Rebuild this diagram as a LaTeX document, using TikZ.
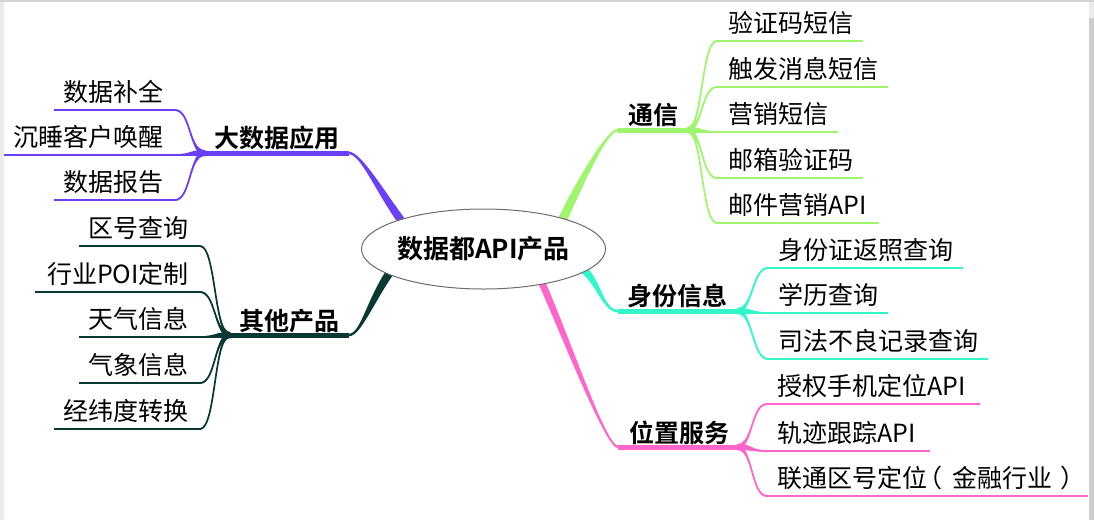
\documentclass[tikz,border=0pt]{standalone}
\usepackage{fontspec}
\setmainfont{Noto Sans CJK SC}[BoldFont={Noto Sans CJK SC Bold}]
\usetikzlibrary{calc,shapes.geometric}
\definecolor{cpur}{HTML}{6B3FF5}
\definecolor{cdark}{HTML}{0A3832}
\definecolor{cgreen}{HTML}{A0F56E}
\definecolor{caqua}{HTML}{33F7CC}
\definecolor{cpink}{HTML}{FF66CC}
\definecolor{gbar}{HTML}{EBEBEB}
\definecolor{gtop}{HTML}{D2D2D2}
\definecolor{gbartwo}{HTML}{CDCDCD}
\pgfdeclarelayer{back}\pgfdeclarelayer{bg}\pgfsetlayers{back,bg,main}
% tapered connector: colour, from, to, control vec at from, control vec at to, half width vec at from, at to
\newcommand\taper[7]{%
  \fill[#1] ($(#2)+#6$) .. controls ($(#2)+#4+#6$) and ($(#3)+#5+#7$) .. ($(#3)+#7$)
    -- ($(#3)-#7$) .. controls ($(#3)+#5-#7$) and ($(#2)+#4-#6$) .. ($(#2)-#6$) -- cycle;
  \draw[#1, line width=1.7pt] (#2) .. controls ($(#2)+#4$) and ($(#3)+#5$) .. (#3);}
\newcommand\kid[6]{% colour, junction, leaf start, leaf end, c1, c2
  \taper{#1}{#2}{#3}{#5}{#6}{(0,3)}{(0,0.8)}
  \draw[#1, uline] (#3) -- (#4);}
\tikzset{
  leafL/.style={anchor=base east, inner sep=0pt, font=\fontsize{25}{28}\selectfont},
  leafR/.style={anchor=base west, inner sep=0pt, font=\fontsize{25}{28}\selectfont},
  topic/.style={anchor=base west, inner sep=0pt, font=\bfseries\fontsize{25}{28}\selectfont},
  hub/.style={ellipse, draw=gray!85!black, line width=1pt, fill=white, minimum width=207pt,
    minimum height=80pt, inner sep=0pt, font=\bfseries\fontsize{26}{30}\selectfont},
  uline/.style={line width=2pt},
  mline/.style={line width=5pt},
}
\begin{document}
\begin{tikzpicture}[x=1pt,y=-1pt]
\useasboundingbox (0,0) rectangle (1094,520);
\begin{pgfonlayer}{back}
\fill[white] (0,0) rectangle (1094,520);
\fill[gbar] (0,0) rectangle (4,520);
\fill[gtop] (0,0) rectangle (1094,1.5);
\fill[gbar] (1089,1.5) rectangle (1094,18);
\fill[gbartwo] (1089,18) rectangle (1094,520);
\end{pgfonlayer}

\node[hub] (c) at (483.5,249) {数据都API产品};

% branch anchors
\coordinate (pA) at ($(c.center)!0.88!(c.163)$);
\coordinate (dA) at ($(c.center)!0.88!(c.192)$);
\coordinate (gA) at ($(c.center)!0.88!(c.18)$);
\coordinate (aA) at ($(c.center)!0.88!(c.350)$);
\coordinate (kA) at ($(c.center)!0.88!(c.332)$);

\coordinate (pB) at (349,153); \coordinate (pJ) at (205,153);
\coordinate (dB) at (349,335); \coordinate (dJ) at (230,335);
\coordinate (gB) at (618,130); \coordinate (gJ) at (687,130);
\coordinate (aB) at (618,311); \coordinate (aJ) at (737,311);
\coordinate (kB) at (618,447); \coordinate (kJ) at (737,447);

% leaf line coordinates
\coordinate (p1s) at (175,110); \coordinate (p1e) at (54,110);
\coordinate (p2s) at (175,155); \coordinate (p2e) at (4,155);
\coordinate (p3s) at (175,200); \coordinate (p3e) at (54,200);

\coordinate (d1s) at (200,246); \coordinate (d1e) at (79,246);
\coordinate (d2s) at (200,292); \coordinate (d2e) at (35,292);
\coordinate (d3s) at (200,337); \coordinate (d3e) at (79,337);
\coordinate (d4s) at (200,383); \coordinate (d4e) at (79,383);
\coordinate (d5s) at (200,429); \coordinate (d5e) at (54,429);

\coordinate (g1s) at (717,41);  \coordinate (g1e) at (863,41);
\coordinate (g2s) at (717,87);  \coordinate (g2e) at (888,87);
\coordinate (g3s) at (717,132); \coordinate (g3e) at (838,132);
\coordinate (g4s) at (717,178); \coordinate (g4e) at (863,178);
\coordinate (g5s) at (717,223); \coordinate (g5e) at (879,223);

\coordinate (a1s) at (768,268); \coordinate (a1e) at (963,268);
\coordinate (a2s) at (768,313); \coordinate (a2e) at (888,313);
\coordinate (a3s) at (768,359); \coordinate (a3e) at (988,359);

\coordinate (k1s) at (767,404); \coordinate (k1e) at (980,404);
\coordinate (k2s) at (767,451); \coordinate (k2e) at (930,451);
\coordinate (k3s) at (767,496); \coordinate (k3e) at (1088,496);

\begin{pgfonlayer}{bg}
% main branches
\taper{cpur}{pA}{pB}{(-24,-32)}{(12,0)}{(-3.3,2.2)}{(0,1.2)}
\taper{cdark}{dA}{dB}{(-22,30)}{(12,0)}{(3.4,2.2)}{(0,1.2)}
\taper{cgreen}{gA}{gB}{(16,-34)}{(-12,0)}{(-4.2,-1.7)}{(0,-1.2)}
\taper{caqua}{aA}{aB}{(20,12)}{(-16,0)}{(2.3,-3.2)}{(0,-1.2)}
\taper{cpink}{kA}{kB}{(28,64)}{(-12,0)}{(3.2,-1.3)}{(0,-1.2)}
\draw[cpur, mline] (pJ) -- (pB);
\draw[cdark, mline] (dJ) -- (dB);
\draw[cgreen, mline] (gB) -- (gJ);
\draw[caqua, mline] (aB) -- (aJ);
\draw[cpink, mline] (kB) -- (kJ);
% leaves
\foreach \i in {1,2,3} {\kid{cpur}{pJ}{p\i s}{p\i e}{(-16,0)}{(16,0)}}
\foreach \i in {1,...,5} {\kid{cdark}{dJ}{d\i s}{d\i e}{(-16,0)}{(16,0)}}
\foreach \i in {1,...,5} {\kid{cgreen}{gJ}{g\i s}{g\i e}{(16,0)}{(-16,0)}}
\foreach \i in {1,2,3} {\kid{caqua}{aJ}{a\i s}{a\i e}{(16,0)}{(-16,0)}}
\foreach \i in {1,2,3} {\kid{cpink}{kJ}{k\i s}{k\i e}{(16,0)}{(-16,0)}}
\end{pgfonlayer}

% topic labels
\node[topic] (tp) at (214,147) {大数据应用};
\node[topic] (td) at (239,330) {其他产品};
\node[topic] (tg) at (628,124) {通信};
\node[topic] (ta) at (627,305) {身份信息};
\node[topic] (tk) at (629,442) {位置服务};

% leaf labels
\node[leafL] (lp1) at (164,101) {数据补全};
\node[leafL] (lp2) at (164,146) {沉睡客户唤醒};
\node[leafL] (lp3) at (164,191) {数据报告};

\node[leafL] (ld1) at (189,237) {区号查询};
\node[leafL] (ld2) at (189,283) {行业POI定制};
\node[leafL] (ld3) at (189,328) {天气信息};
\node[leafL] (ld4) at (189,374) {气象信息};
\node[leafL] (ld5) at (189,420) {经纬度转换};

\node[leafR] (lg1) at (728,32) {验证码短信};
\node[leafR] (lg2) at (728,78) {触发消息短信};
\node[leafR] (lg3) at (728,123) {营销短信};
\node[leafR] (lg4) at (728,169) {邮箱验证码};
\node[leafR] (lg5) at (728,214) {邮件营销API};

\node[leafR] (la1) at (778,259) {身份证返照查询};
\node[leafR] (la2) at (778,304) {学历查询};
\node[leafR] (la3) at (778,350) {司法不良记录查询};

\node[leafR] (lk1) at (777,395) {授权手机定位API};
\node[leafR] (lk2) at (777,442) {轨迹跟踪API};
\node[leafR] (lk3) at (777,487) {联通区号定位\kern-10pt（\kern10pt金融行业\kern8pt）\kern-8pt};
\end{tikzpicture}
\end{document}
